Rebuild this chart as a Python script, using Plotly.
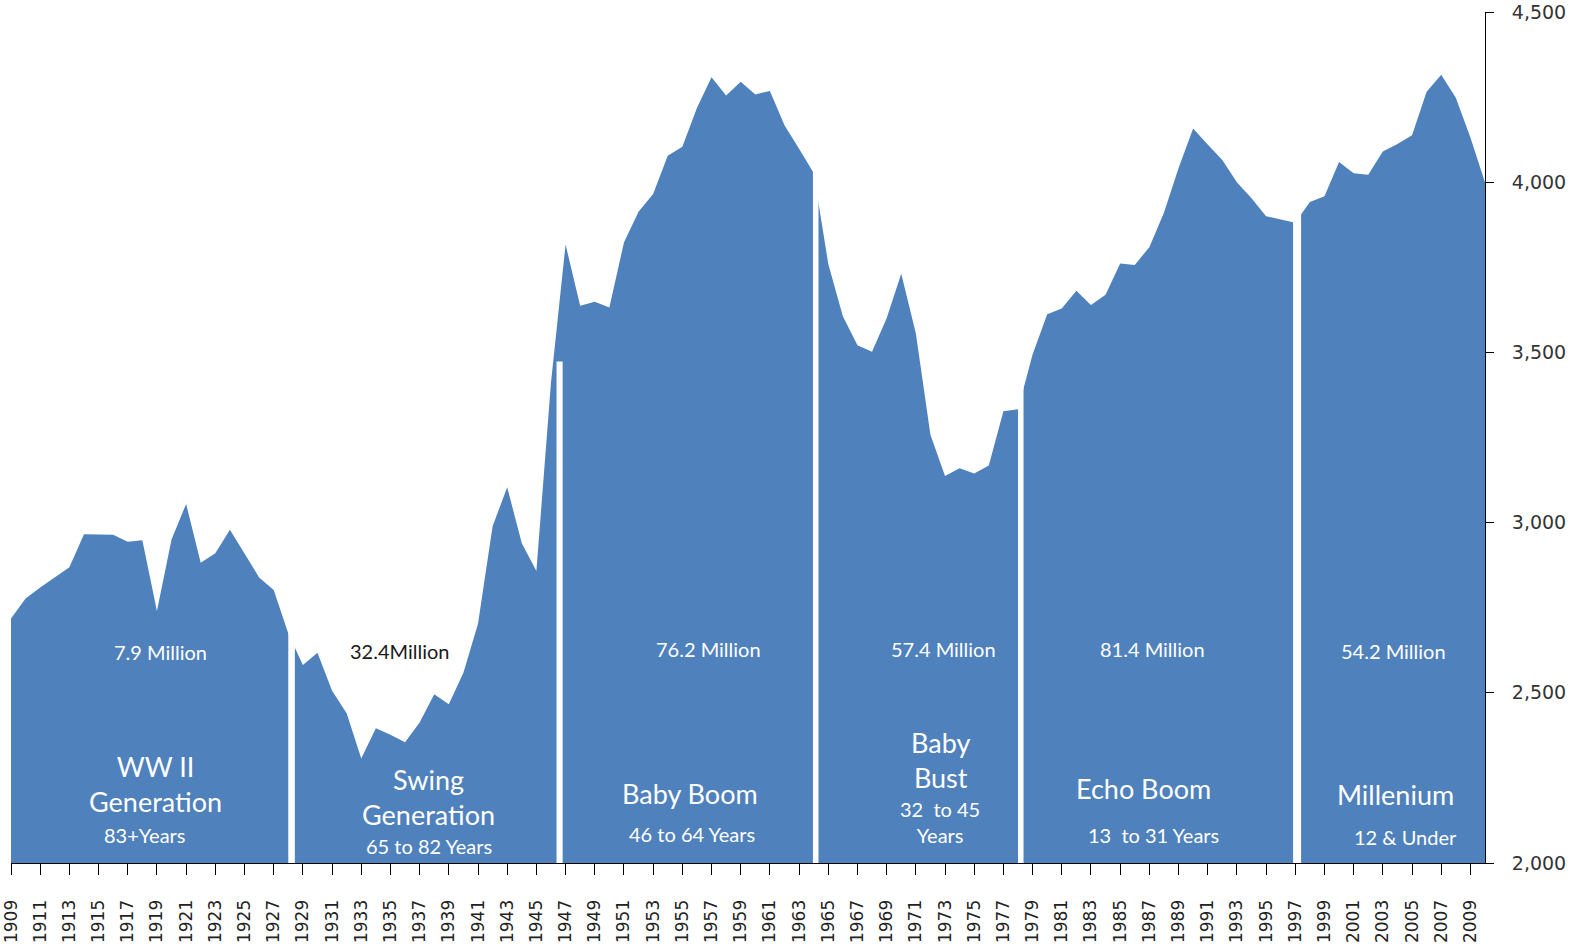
import plotly.graph_objects as go

# ---- data (US births, thousands) ----
years = list(range(1909, 2011))
births = [
    2718, 2777, 2809, 2840, 2869, 2966, 2965, 2964, 2944, 2948,  # 1909-1918
    2740, 2950, 3055, 2882, 2910, 2979, 2909, 2839, 2802, 2674,  # 1919-1928
    2582, 2618, 2506, 2440, 2307, 2396, 2377, 2355, 2413, 2496,  # 1929-1938
    2466, 2559, 2703, 2989, 3104, 2939, 2858, 3411, 3817, 3637,  # 1939-1948
    3649, 3632, 3823, 3913, 3965, 4078, 4104, 4218, 4308, 4255,  # 1949-1958
    4295, 4258, 4268, 4167, 4098, 4027, 3760, 3606, 3521, 3502,  # 1959-1968
    3600, 3731, 3556, 3258, 3137, 3160, 3144, 3168, 3327, 3333,  # 1969-1978
    3494, 3612, 3629, 3681, 3639, 3669, 3761, 3757, 3809, 3910,  # 1979-1988
    4041, 4158, 4111, 4065, 4000, 3953, 3900, 3891, 3881, 3942,  # 1989-1998
    3959, 4059, 4026, 4022, 4090, 4112, 4138, 4266, 4316, 4248,  # 1999-2008
    4131, 3999,                                                  # 2009-2010
]
tick_years = list(range(1909, 2010, 2))
y_ticks = [2000, 2500, 3000, 3500, 4000, 4500]

# generation separators (start year, end year, top value)
gap_start = [1928.0, 1946.38, 1963.95, 1978.0, 1996.85]
gap_end = [1928.45, 1946.80, 1964.33, 1978.38, 1997.40]
gap_top = [4500, 3473, 4500, 4500, 4500]

# generation labels
count_labels = ["7.9 Million", "32.4Million", "76.2 Million", "57.4 Million", "81.4 Million", "54.2 Million"]
name_labels = ["WW II<br>Generation", "Swing<br>Generation", "Baby Boom", "Baby<br>Bust", "Echo Boom", "Millenium"]
age_labels = ["83+Years", "65 to 82 Years", "46 to 64 Years", "32  to 45<br>Years", "13  to 31 Years", "12 & Under"]

BLUE = "#4F81BD"

fig = go.Figure()
fig.add_trace(go.Scatter(
    x=years, y=births, mode="lines", line=dict(width=0, color=BLUE),
    fill="tozeroy", fillcolor=BLUE, hoverinfo="x+y", showlegend=False,
))

for s, e, t in zip(gap_start, gap_end, gap_top):
    fig.add_shape(type="rect", xref="x", yref="y", x0=s, x1=e, y0=2000, y1=t,
                  fillcolor="white", line=dict(width=0), layer="above")

# pixel-based placement helpers (plot area on screen: x 11..1485, y 12..863)
def px(xp):
    return (xp - 11) / 1474.0

def py(yp):
    return (863 - yp) / 851.0

LABEL_FONT = "Lato, Carlito, Calibri, sans-serif"
count_pos = [(160, 652), (399, 651), (708, 649), (944, 649), (1152, 649), (1393, 651)]
count_col = ["white", "#1a1a1a", "white", "white", "white", "white"]
name_pos = [(155, 784), (428, 797), (690, 793), (940, 760), (1143, 788), (1395, 794)]
age_pos = [(144, 835), (429, 846), (692, 834), (940, 822), (1153, 835), (1405, 837)]

def label(txt, x, y, size, color):
    fig.add_annotation(x=px(x), y=py(y), xref="paper", yref="paper", text=txt,
                       xanchor="center", yanchor="middle", align="center",
                       showarrow=False, font=dict(family=LABEL_FONT, size=size, color=color))

for txt, (x, y), c in zip(count_labels, count_pos, count_col):
    label(txt, x, y, 20, c)
for txt, (x, y) in zip(name_labels, name_pos):
    label(txt, x, y, 27, "white")
for txt, (x, y) in zip(age_labels, age_pos):
    label(txt, x, y, 20, "white")

fig.update_layout(
    width=1575, height=951,
    margin=dict(l=11, r=90, t=12, b=88, autoexpand=False),
    paper_bgcolor="white", plot_bgcolor="white",
    showlegend=False,
    xaxis=dict(
        range=[1909, 2010], tickmode="array", tickvals=tick_years,
        ticktext=[str(y) for y in tick_years], tickangle=-90,
        ticks="outside", ticklen=11, tickcolor="#000", tickwidth=1,
        ticklabelstandoff=18, ticklabeloverflow="allow",
        showline=True, linecolor="#000", linewidth=1,
        showgrid=False, zeroline=False, automargin=False,
        tickfont=dict(family="DejaVu Sans", size=17, color="#222"),
    ),
    yaxis=dict(
        range=[2000, 4500], side="right", tickmode="array", tickvals=y_ticks,
        tickformat=",", ticks="outside", ticklen=8, tickcolor="#000",
        ticklabelstandoff=14, ticklabeloverflow="allow",
        showline=True, linecolor="#000", linewidth=1,
        showgrid=False, zeroline=False, automargin=False,
        tickfont=dict(family="DejaVu Sans", size=19, color="#333"),
    ),
)

# remove the page's default 8px body margin so the figure fills the window
fig.write_html("out.html", config={"displayModeBar": False},
               post_script="document.body.style.margin='0px';")
